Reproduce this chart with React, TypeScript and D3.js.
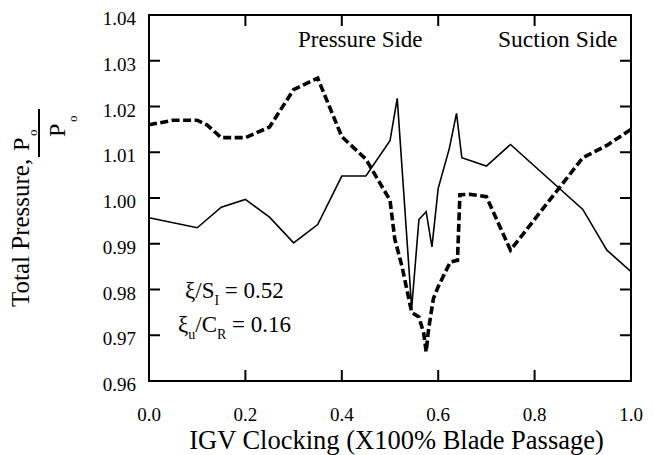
import React from 'react';
import * as d3 from 'd3';

// Solid curve
const solidX = [0, 0.1, 0.15, 0.2, 0.25, 0.3, 0.35, 0.4, 0.45, 0.5, 0.515, 0.545, 0.56, 0.575, 0.587, 0.6, 0.623, 0.638, 0.649, 0.7, 0.75, 0.9, 0.95, 1.0];
const solidP = [0.9957, 0.9935, 0.998, 0.9997, 0.9958, 0.9902, 0.9942, 1.0048, 1.0048, 1.0125, 1.0218, 0.9759, 0.9953, 0.997, 0.9893, 1.0021, 1.0108, 1.0185, 1.0088, 1.007, 1.0117, 0.9975, 0.9886, 0.9839];

// Dashed curve
const dashX = [0, 0.05, 0.1, 0.12, 0.15, 0.2, 0.25, 0.3, 0.35, 0.4, 0.45, 0.5, 0.51, 0.525, 0.545, 0.56, 0.57, 0.575, 0.58, 0.59, 0.6, 0.625, 0.64, 0.645, 0.665, 0.7, 0.75, 0.9, 0.95, 1.0];
const dashP = [1.016, 1.017, 1.017, 1.016, 1.0132, 1.0132, 1.0155, 1.0237, 1.0262, 1.0134, 1.0085, 0.9995, 0.991, 0.985, 0.975, 0.974, 0.9704, 0.9664, 0.9713, 0.978, 0.9806, 0.986, 0.9864, 1.0007, 1.0008, 1.0003, 0.9886, 1.0088, 1.0115, 1.015];

const xTickValues = [0, 0.2, 0.4, 0.6, 0.8, 1.0];
const xTickLabels = ['0.0', '0.2', '0.4', '0.6', '0.8', '1.0'];
const yTickValues = [0.96, 0.97, 0.98, 0.99, 1.0, 1.01, 1.02, 1.03, 1.04];
const yTickLabels = ['0.96', '0.97', '0.98', '0.99', '1.00', '1.01', '1.02', '1.03', '1.04'];

const FONT = '"Liberation Serif", "Times New Roman", serif';

export default function App() {
  const W = 653, H = 455;
  const x = d3.scaleLinear().domain([0, 1]).range([149, 631]);
  const y = d3.scaleLinear().domain([0.96, 1.04]).range([381, 15]);
  const line = d3.line<[number, number]>().x(d => x(d[0])).y(d => y(d[1]));
  const solidPts = solidX.map((v, i) => [v, solidP[i]] as [number, number]);
  const dashPts = dashX.map((v, i) => [v, dashP[i]] as [number, number]);
  const [x0, x1] = x.range();
  const [y0, y1] = y.range();
  const TL = 11;
  const innerX = xTickValues.filter(v => v > 0 && v < 1);
  const innerY = yTickValues.filter(v => v > 0.96 && v < 1.04);

  return (
    <svg width={W} height={H} style={{ position: 'absolute', left: 0, top: 0, background: '#fff' }} fontFamily={FONT}>
      <rect x={0} y={0} width={W} height={H} fill="#fff" />
      {/* ticks */}
      {innerX.map(v => (
        <g key={'xt' + v}>
          <line x1={x(v)} x2={x(v)} y1={y0} y2={y0 - TL} stroke="#000" strokeWidth={2} />
          <line x1={x(v)} x2={x(v)} y1={y1} y2={y1 + TL} stroke="#000" strokeWidth={2} />
        </g>
      ))}
      {innerY.map(v => (
        <g key={'yt' + v}>
          <line x1={x0} x2={x0 + TL} y1={y(v)} y2={y(v)} stroke="#000" strokeWidth={2} />
          <line x1={x1} x2={x1 - TL} y1={y(v)} y2={y(v)} stroke="#000" strokeWidth={2} />
        </g>
      ))}
      {/* curves */}
      <path d={line(solidPts) || ''} fill="none" stroke="#000" strokeWidth={1.6} strokeLinejoin="miter" />
      <path d={line(dashPts) || ''} fill="none" stroke="#000" strokeWidth={3.6} strokeDasharray="8,3.5" />
      {/* frame */}
      <rect x={x0} y={y1} width={x1 - x0} height={y0 - y1} fill="none" stroke="#000" strokeWidth={2} />
      {/* tick labels */}
      {xTickValues.map((v, i) => (
        <text key={'xl' + v} x={x(v)} y={421} textAnchor="middle" fontSize={19} fill="#000">{xTickLabels[i]}</text>
      ))}
      {yTickValues.map((v, i) => (
        <text key={'yl' + v} x={136} y={y(v) + 10} textAnchor="end" fontSize={19} fill="#000">{yTickLabels[i]}</text>
      ))}
      {/* axis titles */}
      <text x={396.5} y={449} textAnchor="middle" fontSize={26.5} fill="#000">IGV Clocking (X100% Blade Passage)</text>
      <g transform="translate(29,307) rotate(-90)" fill="#000">
        <text x={0} y={0} fontSize={25}>Total Pressure,</text>
        <text x={156} y={0} fontSize={24}>P</text>
        <text x={171} y={8} fontSize={13}>o</text>
        <line x1={150} x2={198} y1={10} y2={10} stroke="#000" strokeWidth={2} />
        <text x={170} y={36} fontSize={24}>P</text>
        <text x={185} y={48} fontSize={13}>o</text>
      </g>
      {/* annotations */}
      <text x={298} y={47} fontSize={23} fill="#000">Pressure Side</text>
      <text x={498} y={47} fontSize={23.5} fill="#000">Suction Side</text>
      <text x={185} y={298} fontSize={23} fill="#000">
        ξ/S<tspan fontSize={14} dy={7}>I</tspan><tspan dy={-7}> = 0.52</tspan>
      </text>
      <text x={178} y={332} fontSize={23} fill="#000">
        ξ<tspan fontSize={14} dy={7}>u</tspan><tspan dy={-7}>/C</tspan><tspan fontSize={14} dy={7}>R</tspan><tspan dy={-7}> = 0.16</tspan>
      </text>
    </svg>
  );
}
